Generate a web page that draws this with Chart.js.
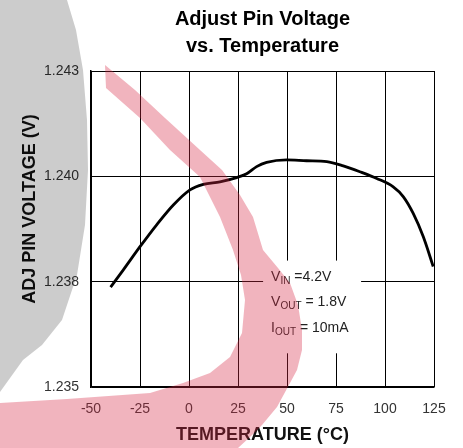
<!DOCTYPE html>
<html><head><meta charset="utf-8">
<script src="https://cdn.jsdelivr.net/npm/chart.js@4"></script>
<style>html,body{margin:0;padding:0;background:#fff;overflow:hidden;}#wrap{width:463px;height:448px;}</style>
</head><body><div id="wrap"><canvas id="c" width="463" height="448"></canvas></div>
<script>
// ---- data ----
const temperatures = [-40, -33.5, -25, -16.5, -8, 0.5, 7.3, 15.8, 24.3, 29.4, 34.5, 39.6, 49.8, 60, 70.3, 78.7, 87.2, 95.8, 104.2, 109.3, 114.4, 119.5, 124.6];
const adjVoltages = [1.23737, 1.23778, 1.23833, 1.23885, 1.23932, 1.23968, 1.23981, 1.23987, 1.23997, 1.24006, 1.24023, 1.24033, 1.24039, 1.24037, 1.24035, 1.24025, 1.24011, 1.23995, 1.23975, 1.23952, 1.23912, 1.23857, 1.23786];
const xTickValues = [-50, -25, 0, 25, 50, 75, 100, 125];
const yTickValues = [1.235, 1.2375, 1.24, 1.2425];
const yTickLabels = ['1.235', '1.238', '1.240', '1.243'];
const titleLines = ['Adjust Pin Voltage', 'vs. Temperature'];
const xTitle = 'TEMPERATURE (°C)';
const yTitle = 'ADJ PIN VOLTAGE (V)';
const conditionMain = ['V', 'V', 'I'];
const conditionSub = ['IN', 'OUT', 'OUT'];
const conditionRest = [' =4.2V', ' = 1.8V', ' = 10mA'];
const noteBoxX = [37.8, 87.8];
const noteBoxY = [1.2358, 1.2380];

const FONT = "'Liberation Sans', Arial, Helvetica, sans-serif";

const notePlugin = {
  id: 'note',
  beforeDatasetsDraw(chart) {
    const {ctx, scales: {x, y}} = chart;
    const l = x.getPixelForValue(noteBoxX[0]), r = x.getPixelForValue(noteBoxX[1]);
    const t = y.getPixelForValue(noteBoxY[1]), b = y.getPixelForValue(noteBoxY[0]);
    ctx.save();
    ctx.fillStyle = '#fff';
    ctx.fillRect(l, t, r - l, b - t);
    ctx.fillStyle = '#222';
    ctx.textBaseline = 'alphabetic';
    ctx.textAlign = 'left';
    for (let i = 0; i < conditionMain.length; i++) {
      let px = l + 8;
      const base = t + 20 + i * 25.7;
      ctx.font = '14px ' + FONT;
      ctx.fillText(conditionMain[i], px, base);
      px += ctx.measureText(conditionMain[i]).width;
      ctx.font = '10px ' + FONT;
      ctx.fillText(conditionSub[i], px, base + 3);
      px += ctx.measureText(conditionSub[i]).width;
      ctx.font = '14px ' + FONT;
      ctx.fillText(conditionRest[i], px, base);
    }
    ctx.restore();
  }
};

const yTitlePlugin = {
  id: 'ytitle',
  afterDraw(chart) {
    const {ctx} = chart;
    ctx.save();
    ctx.translate(30, 209);
    ctx.rotate(-Math.PI / 2);
    ctx.font = 'bold 18px ' + FONT;
    ctx.fillStyle = '#111';
    ctx.textAlign = 'center';
    ctx.textBaseline = 'middle';
    ctx.fillText(yTitle, 0, 0);
    ctx.restore();
  }
};

function poly(ctx, pts) {
  ctx.beginPath();
  ctx.moveTo(pts[0][0], pts[0][1]);
  for (let i = 1; i < pts.length; i++) ctx.lineTo(pts[i][0], pts[i][1]);
  ctx.closePath();
  ctx.fill();
}

const watermarkPlugin = {
  id: 'watermark',
  afterDraw(chart) {
    const {ctx} = chart;
    ctx.save();
    ctx.fillStyle = 'rgba(0,0,0,0.2)';
    poly(ctx, [[0,0],[67,0],[76,30],[83,70],[87,120],[88,170],[85,225],[77,275],[62,320],[42,345],[23,360],[0,392]]);
    ctx.fillStyle = 'rgba(214,40,70,0.35)';
    poly(ctx, [[105,65],[135,90],[165,118],[200,150],[222,170],[240,195],[253,217],[263,250],[278,268],[290,283],[298,305],[302,330],[302,350],[297,370],[290,383],[277,407],[262,425],[250,437],[238,448],
               [0,448],[0,403],[67,399],[150,393],[183,383],[210,373],[230,357],[242,333],[245,300],[241,275],[233,250],[220,217],[200,177],[170,150],[140,118],[106,88]]);
    ctx.restore();
  }
};

new Chart(document.getElementById('c'), {
  type: 'line',
  data: {
    datasets: [{
      data: temperatures.map((t, i) => ({x: t, y: adjVoltages[i]})),
      borderColor: '#000',
      borderWidth: 2.8,
      pointRadius: 0,
      tension: 0.4,
      cubicInterpolationMode: 'monotone',
      fill: false
    }]
  },
  options: {
    responsive: false,
    animation: false,
    devicePixelRatio: 1,
    layout: {padding: {left: 0, right: 29, top: 0, bottom: 0}},
    plugins: {
      legend: {display: false},
      tooltip: {enabled: false},
      title: {
        display: true,
        fullSize: false,
        text: titleLines,
        color: '#000',
        font: {family: FONT, size: 20, weight: 'bold', lineHeight: 1.35},
        padding: {top: 6, bottom: 11}
      }
    },
    scales: {
      x: {
        type: 'linear',
        min: -50, max: 125,
        afterBuildTicks: s => { s.ticks = xTickValues.map(v => ({value: v})); },
        afterFit: s => { s.height = 61; },
        grid: {color: '#000', lineWidth: 1, drawTicks: false},
        border: {color: '#000', width: 1.5},
        ticks: {color: '#333', padding: 14, font: {family: FONT, size: 14}, maxRotation: 0,
                callback: v => String(v)},
        title: {display: true, text: xTitle, color: '#111', font: {family: FONT, size: 18, weight: 'bold', lineHeight: 1.2}, padding: {top: 0, bottom: 2}}
      },
      y: {
        type: 'linear',
        min: 1.235, max: 1.2425,
        afterBuildTicks: s => { s.ticks = yTickValues.map(v => ({value: v})); },
        afterFit: s => { s.width = 91; },
        grid: {color: '#000', lineWidth: 1, drawTicks: false},
        border: {color: '#000', width: 1.5},
        ticks: {color: '#333', padding: 12, font: {family: FONT, size: 14},
                callback: (v, i) => yTickLabels[i]}
      }
    }
  },
  plugins: [notePlugin, yTitlePlugin, watermarkPlugin]
});
</script></body></html>
